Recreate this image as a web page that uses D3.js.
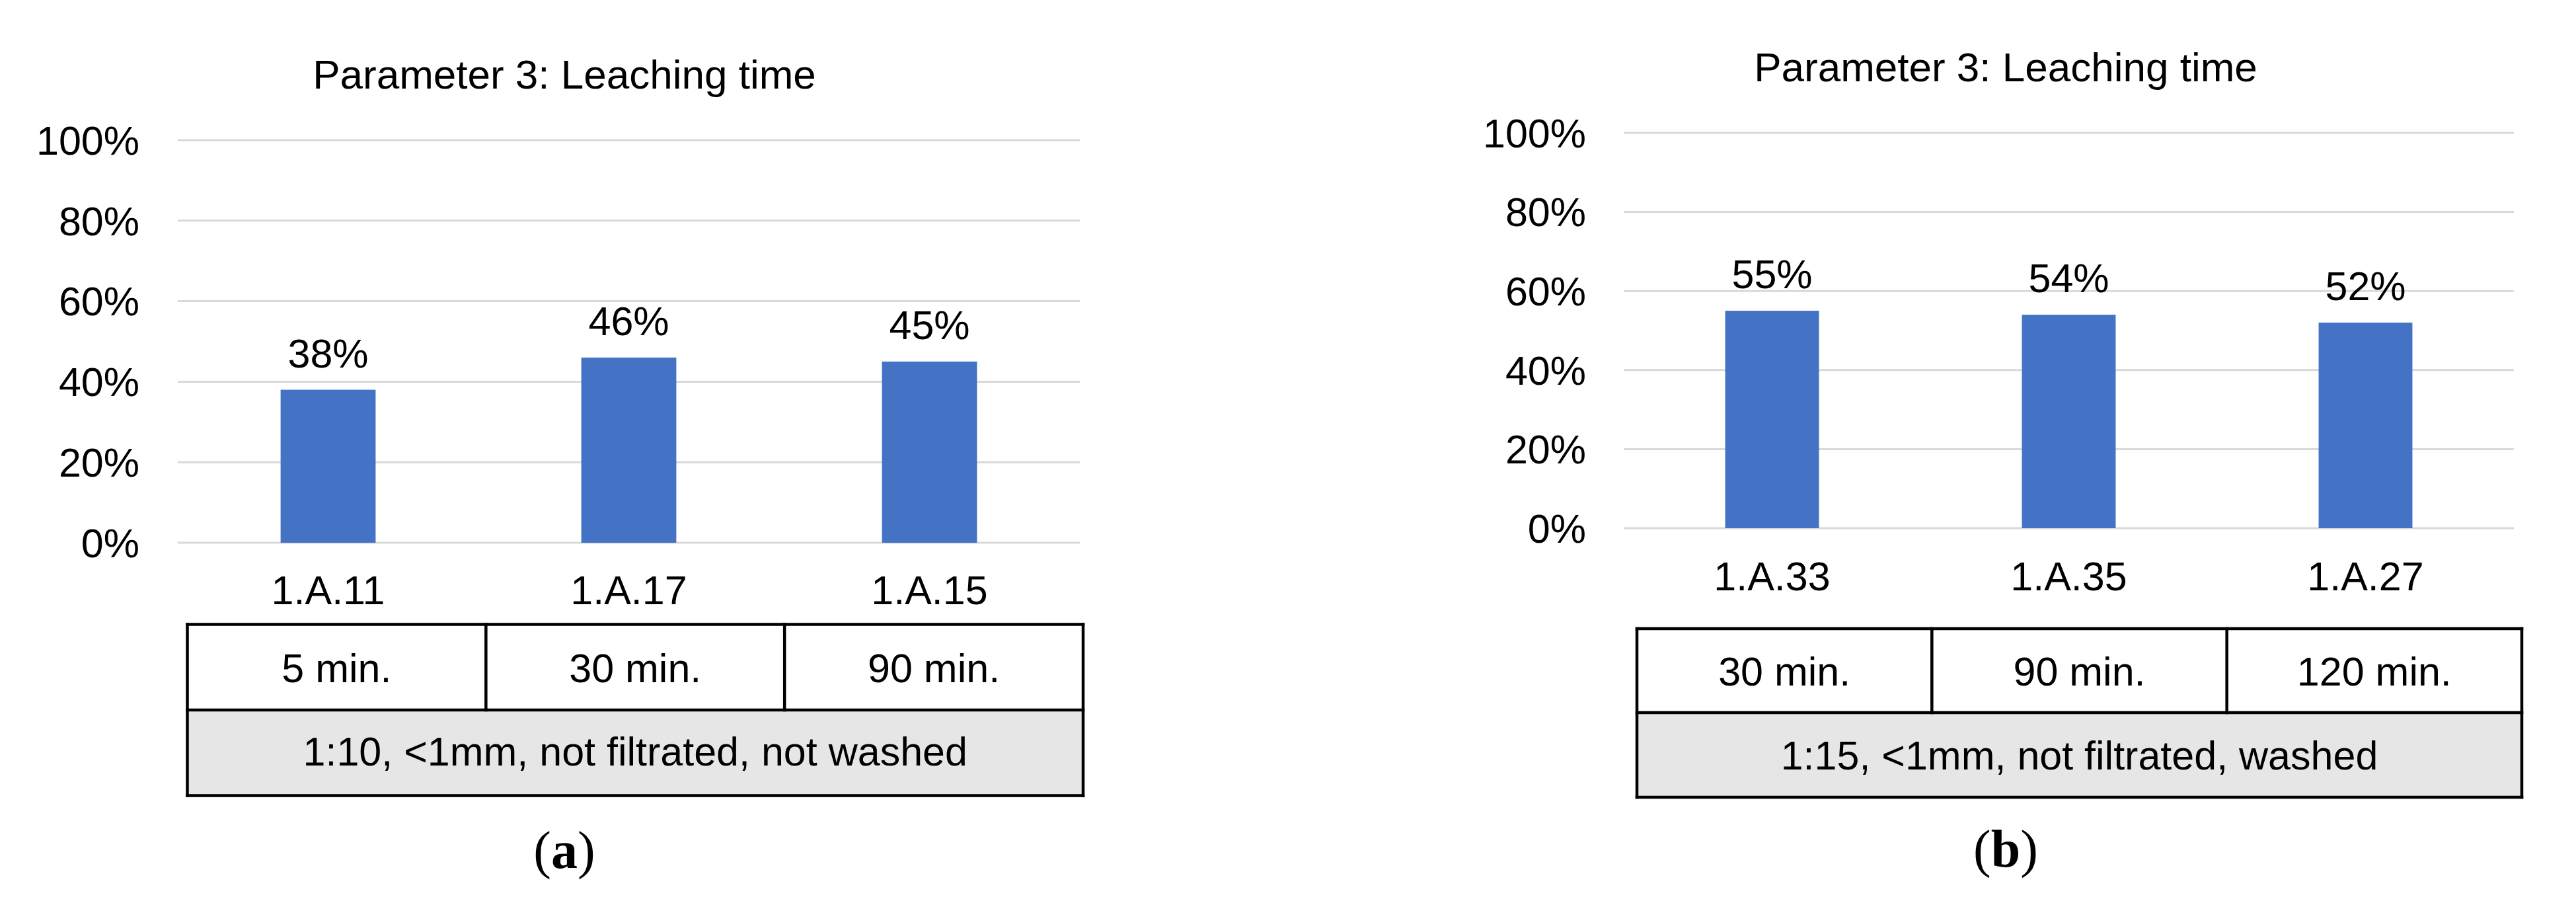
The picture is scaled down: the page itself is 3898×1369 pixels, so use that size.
<!DOCTYPE html>
<html>
<head>
<meta charset="utf-8">
<script src="https://cdn.jsdelivr.net/npm/d3@7"></script>
<style>
  body { margin: 0; background: #fff; }
  text { font-family: "Liberation Sans", Arial, sans-serif; fill: #000; }
</style>
</head>
<body>
<svg id="chart" width="3898" height="1369"></svg>
<script>

// data
var chartTitle = "Parameter 3: Leaching time";
var yTicks = [0, 0.2, 0.4, 0.6, 0.8, 1.0];

var samplesA = ["1.A.11", "1.A.17", "1.A.15"];
var valuesA = [0.38, 0.46, 0.45];
var timesA = ["5 min.", "30 min.", "90 min."];
var conditionA = "1:10, <1mm, not filtrated, not washed";

var samplesB = ["1.A.33", "1.A.35", "1.A.27"];
var valuesB = [0.55, 0.54, 0.52];
var timesB = ["30 min.", "90 min.", "120 min."];
var conditionB = "1:15, <1mm, not filtrated, washed";

var barColor = "#4472c4";
var gridColor = "#d9d9d9";
var cellGray = "#e7e6e6";

var svg = d3.select("#chart");
var fmt = d3.format(".0%");

function drawPanel(g, samples, values, times, condition, letter, L) {

    var x = d3.scaleBand()
        .domain(samples)
        .range([L.plotX0, L.plotX1])
        .paddingInner(0.684)
        .paddingOuter(0.342);

    var y = d3.scaleLinear()
        .domain([0, 1])
        .range([L.yBottom, L.yTop]);

    // title
    g.append("text")
        .attr("x", L.cx)
        .attr("y", L.titleY)
        .attr("text-anchor", "middle")
        .style("font-size", "62px")
        .text(chartTitle);

    // gridlines
    g.append("g").selectAll("line")
        .data(yTicks)
        .enter().append("line")
        .attr("x1", L.plotX0)
        .attr("x2", L.plotX1)
        .attr("y1", function(d) { return y(d); })
        .attr("y2", function(d) { return y(d); })
        .attr("stroke", gridColor)
        .attr("stroke-width", 3);

    // y axis labels
    var yAxis = d3.axisLeft(y).tickValues(yTicks).tickFormat(fmt).tickSize(0).tickPadding(0);
    var ya = g.append("g")
        .attr("transform", "translate(" + L.tickX + ",0)")
        .call(yAxis);
    ya.select(".domain").remove();
    ya.selectAll("text")
        .style("font-size", "61px")
        .style("font-family", "'Liberation Sans', Arial, sans-serif")
        .attr("fill", "#000")
        .attr("dy", "0.35em");

    // bars
    g.append("g").selectAll("rect")
        .data(values)
        .enter().append("rect")
        .attr("x", function(d, i) { return x(samples[i]); })
        .attr("width", x.bandwidth())
        .attr("y", function(d) { return y(d); })
        .attr("height", function(d) { return y(0) - y(d); })
        .attr("fill", barColor);

    // value labels
    g.append("g").selectAll("text")
        .data(values)
        .enter().append("text")
        .attr("x", function(d, i) { return x(samples[i]) + x.bandwidth() / 2; })
        .attr("y", function(d) { return y(d) - 34; })
        .attr("text-anchor", "middle")
        .style("font-size", "61px")
        .text(function(d) { return fmt(d); });

    // category labels
    g.append("g").selectAll("text")
        .data(samples)
        .enter().append("text")
        .attr("x", function(d) { return x(d) + x.bandwidth() / 2; })
        .attr("y", L.catY)
        .attr("text-anchor", "middle")
        .style("font-size", "61px")
        .text(function(d) { return d; });

    // table under the chart
    var T = L.table;
    var col = d3.scaleBand().domain(d3.range(times.length)).range([T.x0, T.x1]);

    g.append("rect")
        .attr("x", T.x0).attr("y", T.mid)
        .attr("width", T.x1 - T.x0).attr("height", T.bottom - T.mid)
        .attr("fill", cellGray);

    var lines = [
        [T.x0, T.top, T.x1, T.top],
        [T.x0, T.mid, T.x1, T.mid],
        [T.x0, T.bottom, T.x1, T.bottom],
        [T.x0, T.top, T.x0, T.bottom],
        [T.x1, T.top, T.x1, T.bottom]
    ];
    for (var i = 1; i < times.length; i++) {
        lines.push([col(i), T.top, col(i), T.mid]);
    }
    g.append("g").selectAll("line")
        .data(lines)
        .enter().append("line")
        .attr("x1", function(d) { return d[0]; })
        .attr("y1", function(d) { return d[1]; })
        .attr("x2", function(d) { return d[2]; })
        .attr("y2", function(d) { return d[3]; })
        .attr("stroke", "#000")
        .attr("stroke-width", 4.5)
        .attr("stroke-linecap", "square");

    g.append("g").selectAll("text")
        .data(times)
        .enter().append("text")
        .attr("x", function(d, i) { return col(i) + col.bandwidth() / 2; })
        .attr("y", L.cellY)
        .attr("text-anchor", "middle")
        .style("font-size", "61px")
        .text(function(d) { return d; });

    g.append("text")
        .attr("x", (T.x0 + T.x1) / 2)
        .attr("y", L.condY)
        .attr("text-anchor", "middle")
        .style("font-size", "61px")
        .text(condition);

    // sub-figure caption
    var cap = g.append("text")
        .attr("x", L.cx)
        .attr("y", L.capY)
        .attr("text-anchor", "middle")
        .style("font-family", "'Liberation Serif', 'Times New Roman', serif")
        .style("font-size", "80px");
    cap.append("tspan").text("(");
    cap.append("tspan").style("font-weight", "bold").text(letter);
    cap.append("tspan").text(")");
}

var layoutA = {
    cx: 854, plotX0: 269, plotX1: 1634, yTop: 212, yBottom: 821,
    titleY: 134, tickX: 211, catY: 914, cellY: 1032, condY: 1158, capY: 1313,
    table: { x0: 283.5, x1: 1639, top: 944.5, mid: 1074, bottom: 1203.5 }
};
var layoutB = {
    cx: 3035, plotX0: 2457, plotX1: 3804, yTop: 201, yBottom: 799,
    titleY: 123, tickX: 2400, catY: 893, cellY: 1037, condY: 1164, capY: 1311,
    table: { x0: 2477, x1: 3816, top: 951, mid: 1078, bottom: 1206 }
};

drawPanel(svg.append("g"), samplesA, valuesA, timesA, conditionA, "a", layoutA);
drawPanel(svg.append("g"), samplesB, valuesB, timesB, conditionB, "b", layoutB);

</script>
</body>
</html>
